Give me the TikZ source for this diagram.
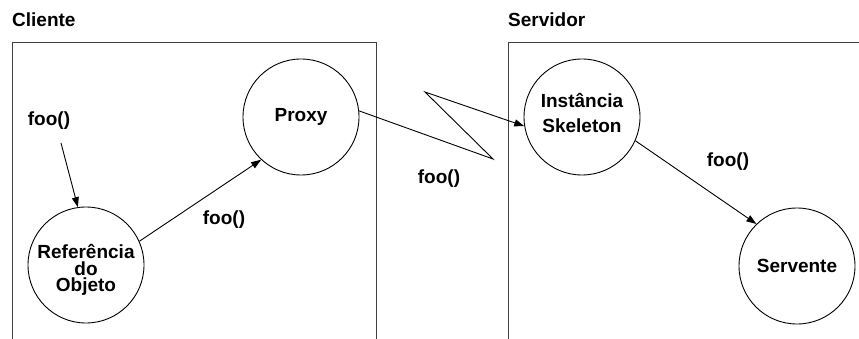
\documentclass[tikz,border=0pt]{standalone}
\usepackage{fontspec}
\setmainfont{Liberation Sans}
\usetikzlibrary{arrows.meta}
\begin{document}
\begin{tikzpicture}[x=1pt,y=-1pt,
  lbl/.style={font=\fontsize{19}{19}\selectfont\bfseries, inner sep=0pt},
  obj/.style={circle, draw, line width=0.9pt, minimum size=116pt, inner sep=0pt, align=center},
  conn/.style={line width=0.9pt, -{Triangle[length=10pt,width=7pt]}},
  frame/.style={line width=1pt, draw=black!75}]
\useasboundingbox (0,0) rectangle (859,339);
% frames
\draw[frame] (12,339) -- (12,43) -- (376,43) -- (376,339);
\draw[frame] (508,339) -- (508,43) -- (859,43);
\node[lbl, anchor=west] (cli) at (12,20) {Cliente};
\node[lbl, anchor=west] (srv) at (508,20) {Servidor};
% objects
\node[obj] (ref) at (86,265) {};
\node[lbl, align=center, font=\fontsize{19}{16.8}\selectfont\bfseries] (reft) at (86,270) {Referência\\do\\Objeto};
\node[obj, font=\fontsize{19}{19}\selectfont\bfseries] (proxy) at (301,117) {Proxy};
\node[obj] (skel) at (582,117) {};
\node[lbl, align=center, font=\fontsize{19}{24.5}\selectfont\bfseries] (skelt) at (582,113) {Instância\\Skeleton};
\node[obj, font=\fontsize{19}{19}\selectfont\bfseries] (serv) at (797,266) {Servente};
% labels
\node[lbl] (f1) at (49,121) {foo()};
\node[lbl] (f2) at (224,220) {foo()};
\node[lbl] (f3) at (439,179) {foo()};
\node[lbl] (f4) at (728,162) {foo()};
% connectors
\coordinate (s1) at (61,143);
\draw[conn] (s1) -- (ref.98);
\draw[conn] (ref.24) -- (proxy.227);
\coordinate (z1) at (493,159);
\coordinate (z2) at (425,92);
\draw[conn] (proxy.6) -- (z1) -- (z2) -- (skel.189);
\draw[conn] (skel.336) -- (serv.134);
\end{tikzpicture}
\end{document}
